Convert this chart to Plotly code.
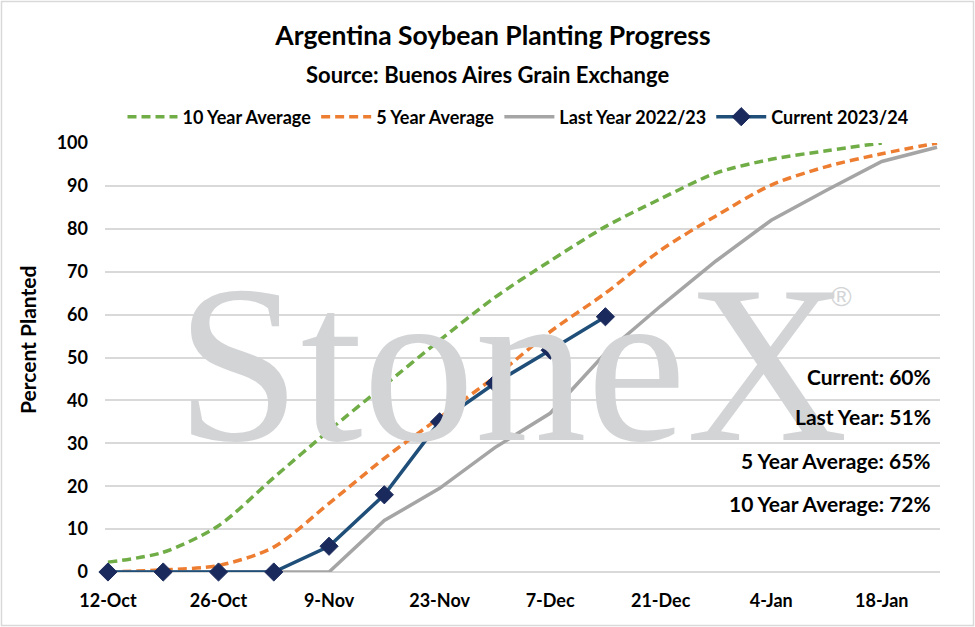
import plotly.graph_objects as go

# ---- data ----
dates = ["2023-10-12", "2023-10-19", "2023-10-26", "2023-11-02", "2023-11-09",
         "2023-11-16", "2023-11-23", "2023-11-30", "2023-12-07", "2023-12-14",
         "2023-12-21", "2023-12-28", "2024-01-04", "2024-01-11", "2024-01-18",
         "2024-01-25"]
ten_year_avg = [2.3, 4.6, 10.8, 22, 33, 43.5, 54, 64, 72.5, 80.5, 87, 93, 96.2, 98.2, 100, None]
five_year_avg = [0, 0.5, 1.5, 5.8, 16, 26.5, 36, 45.5, 56, 65, 75, 83, 90.2, 94.5, 97.5, 100]
last_year = [0, 0, 0, 0, 0, 12, 19.5, 29, 37, 51, 62, 72.5, 82, 89, 95.7, 99]
current = [0, 0, 0, 0, 6, 18, 35, 44, 51.7, 59.5, None, None, None, None, None, None]

series_names = ["10 Year Average", "5 Year Average", "Last Year 2022/23", "Current 2023/24"]
summary_labels = ["Current: 60%", "Last Year: 51%", "5 Year Average: 65%", "10 Year Average: 72%"]
y_ticks = [0, 10, 20, 30, 40, 50, 60, 70, 80, 90, 100]

FONT = "Lato"
W, H = 975, 627
L, R, T, B = 105, 35, 143, 55
PW, PH = W - L - R, H - T - B

def px_x(px):
    return (px - L) / PW

def px_y(py):
    return (H - B - py) / PH

fig = go.Figure()
fig.add_trace(go.Scatter(x=dates, y=ten_year_avg, name=series_names[0], mode="lines",
                         line=dict(color="#70ad47", width=3.5, dash="9px,5px", shape="spline", smoothing=0.8),
                         cliponaxis=False))
fig.add_trace(go.Scatter(x=dates, y=five_year_avg, name=series_names[1], mode="lines",
                         line=dict(color="#ed7d31", width=3.5, dash="9px,5px", shape="spline", smoothing=0.8),
                         cliponaxis=False))
fig.add_trace(go.Scatter(x=dates, y=last_year, name=series_names[2], mode="lines",
                         line=dict(color="#a5a5a5", width=3.5),
                         cliponaxis=False))
fig.add_trace(go.Scatter(x=dates, y=current, name=series_names[3], mode="lines+markers",
                         line=dict(color="#1f4e79", width=3.5),
                         marker=dict(symbol="diamond", size=14, color="#1b2a5c",
                                     line=dict(color="#1b2a5c", width=1)),
                         cliponaxis=False))

annotations = []
# watermark
annotations.append(dict(text="StoneX", xref="paper", yref="paper", x=px_x(512), y=px_y(364),
                        xanchor="center", yanchor="middle", showarrow=False,
                        font=dict(family="Liberation Serif", size=224, color="#d3d4d6")))
annotations.append(dict(text="®", xref="paper", yref="paper", x=px_x(841), y=px_y(296),
                        xanchor="center", yanchor="middle", showarrow=False,
                        font=dict(family="Liberation Sans", size=28, color="#d3d4d6")))
# subtitle
annotations.append(dict(text="Source: Buenos Aires Grain Exchange", xref="paper", yref="paper",
                        x=px_x(487), y=px_y(74), xanchor="center", yanchor="middle", showarrow=False,
                        font=dict(family=FONT, size=22, color="black", weight="bold")))
# y axis title
annotations.append(dict(text="Percent Planted", xref="paper", yref="paper", x=px_x(27), y=px_y(340),
                        xanchor="center", yanchor="middle", showarrow=False, textangle=-90,
                        font=dict(family=FONT, size=21, color="black", weight="bold")))
# summary labels
for lbl, py in zip(summary_labels, [376, 416, 460, 503]):
    annotations.append(dict(text=lbl, xref="paper", yref="paper", x=px_x(933), y=px_y(py),
                            xanchor="right", yanchor="middle", showarrow=False,
                            font=dict(family=FONT, size=21, color="black", weight="bold")))

fig.update_layout(
    width=W, height=H,
    margin=dict(l=L, r=R, t=T, b=B),
    paper_bgcolor="white", plot_bgcolor="rgba(0,0,0,0)",
    title=dict(text="Argentina Soybean Planting Progress", x=px_x(493), xref="paper", xanchor="center",
               y=1 - 36 / H, yanchor="middle",
               font=dict(family=FONT, size=26.5, color="black", weight="bold")),
    legend=dict(orientation="h", x=px_x(518), xanchor="center", y=px_y(117), yanchor="middle",
                font=dict(family=FONT, size=18, color="black", weight="bold"),
                itemwidth=50, bgcolor="rgba(0,0,0,0)", traceorder="normal"),
    xaxis=dict(type="date", range=["2023-10-11 15:00", "2024-01-25 09:00"],
               tick0="2023-10-12", dtick=14 * 86400000, tickformat="%-d-%b",
               showgrid=False, zeroline=False, showline=False, ticks="",
               ticklabelstandoff=16,
               tickfont=dict(family=FONT, size=18, color="black", weight="bold")),
    yaxis=dict(range=[0, 100], tickvals=y_ticks, showgrid=True, gridcolor="#d9d9d9", gridwidth=1.5,
               zeroline=True, zerolinecolor="#d9d9d9", zerolinewidth=1.5, showline=False, ticks="",
               ticklabelstandoff=16,
               tickfont=dict(family=FONT, size=18, color="black", weight="bold")),
    annotations=annotations,
    shapes=[dict(type="rect", xref="paper", yref="paper", x0=px_x(1.5), x1=px_x(973.5),
                 y0=px_y(625.5), y1=px_y(1.5), line=dict(color="#d9d9d9", width=1.5), layer="below")],
    showlegend=True,
)

fig.write_html("out.html", config={"displayModeBar": False},
               post_script="document.body.style.margin='0';document.body.style.overflow='hidden';")
